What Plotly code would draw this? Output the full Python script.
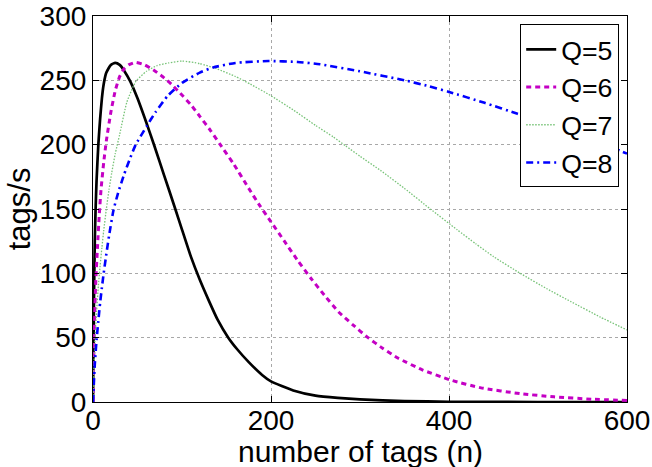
import plotly.graph_objects as go

# Q=5 (solid black)
n_q5 = [0, 1, 2, 3, 4, 6, 8, 10, 12, 15, 20, 25, 30, 35, 42, 50, 60, 69, 80, 92, 100, 110, 120, 130, 140, 152, 162, 175, 190, 200, 225, 250, 275, 300, 350, 400, 500, 600]
y_q5 = [0, 75, 125, 152, 172, 200, 220, 236, 247, 256, 262, 263.5, 262, 257.5, 249, 236, 217, 199, 176, 151, 134, 113, 95, 79, 64, 50, 41, 31, 21, 16, 9, 5, 3.2, 2, 0.7, 0.2, 0, 0]

# Q=6 (magenta dashed)
n_q6 = [0, 1, 2, 3, 5, 7, 9, 12, 15, 20, 25, 30, 35, 40, 48, 58, 68, 78, 88, 98, 110, 120, 132, 143, 158, 175, 188, 200, 215, 230, 245, 260, 276, 292, 309, 325, 343, 370, 402, 436, 480, 518, 560, 600]
y_q6 = [0, 40, 70, 92, 120, 145, 165, 186, 203, 225, 242, 253, 259, 262, 264, 262, 258, 253, 247, 240, 231, 222, 211, 200, 185, 166, 152, 140, 125, 110, 96, 83, 70, 60, 50, 42, 34, 25, 17, 11, 6.5, 4, 2.2, 1.2]

# Q=7 (green dotted)
n_q7 = [0, 1, 2, 4, 6, 8, 10, 12, 15, 18, 21, 25, 30, 38, 48, 60, 72, 85, 100, 120, 139, 160, 177, 200, 225, 250, 270, 284, 300, 323, 350, 379, 409, 430, 450, 480, 510, 537, 570, 600]
y_q7 = [0, 25, 45, 70, 90, 106, 120, 133, 150, 165, 178, 193, 208, 233, 249, 257, 261.5, 263.5, 265, 263, 259, 253, 247, 238, 227, 215, 206, 199, 191, 180, 166, 150, 134, 123, 113, 100, 88, 78, 66, 56]

# Q=8 (blue dash-dot)
n_q8 = [0, 1, 2, 4, 6, 8, 10, 12, 15, 18, 23, 28, 35, 42, 48, 60, 70, 84, 100, 120, 135, 160, 197, 230, 255, 300, 350, 377, 400, 440, 477, 500, 550, 586, 600]
y_q8 = [0, 15, 29, 48, 63, 77, 89, 100, 115, 129, 149, 162, 177, 190, 200, 214, 225, 238, 248, 256, 260, 263.5, 265, 264.3, 262.5, 257, 250, 245.5, 241, 232.5, 224, 218.5, 206, 197, 193]

x_ticks = [0, 200, 400, 600]
y_ticks = [0, 50, 100, 150, 200, 250, 300]

FONT = "Liberation Sans, Arial, sans-serif"

fig = go.Figure()
fig.add_trace(go.Scatter(x=n_q5, y=y_q5, mode="lines", name="Q=5",
                         line=dict(color="black", width=2.7, shape="spline", smoothing=0.5)))
fig.add_trace(go.Scatter(x=n_q6, y=y_q6, mode="lines", name="Q=6",
                         line=dict(color="#c400c4", width=3, dash="5px,4px", shape="spline", smoothing=0.5)))
fig.add_trace(go.Scatter(x=n_q7, y=y_q7, mode="lines", name="Q=7",
                         line=dict(color="rgb(120,195,120)", width=1.3, dash="1.5px,1.5px", shape="spline", smoothing=0.5)))
fig.add_trace(go.Scatter(x=n_q8, y=y_q8, mode="lines", name="Q=8",
                         line=dict(color="#0000ff", width=2.6, dash="7px,4px,2px,4px", shape="spline", smoothing=0.5)))

axis_common = dict(
    showline=True, linecolor="black", linewidth=1.2, mirror="ticks",
    ticks="inside", ticklen=6, tickcolor="black", tickwidth=1,
    showgrid=True, gridcolor="#a8a8a8", gridwidth=1, griddash="dot",
    zeroline=False, automargin=False,
    tickfont=dict(family=FONT, size=28, color="black"),
)

fig.update_layout(
    width=652, height=467,
    margin=dict(l=93, r=25, t=16, b=65),
    paper_bgcolor="white", plot_bgcolor="white",
    font=dict(family=FONT, color="black"),
    xaxis=dict(range=[0, 600], tickvals=x_ticks, ticktext=[str(v) for v in x_ticks],
               ticklabelstandoff=-7, **axis_common),
    yaxis=dict(range=[0, 300], tickvals=y_ticks, ticktext=[str(v) for v in y_ticks], **axis_common),
    legend=dict(x=0.80, y=0.978, xanchor="left", yanchor="top",
                bgcolor="white", bordercolor="black", borderwidth=1,
                font=dict(family=FONT, size=26.7, color="black"),
                itemwidth=30, tracegroupgap=0),
    showlegend=True,
    annotations=[
        dict(text="number of tags (n)", xref="paper", yref="paper", x=0.5, y=-0.128,
             xanchor="center", yanchor="middle", showarrow=False,
             font=dict(family=FONT, size=30, color="black")),
        dict(text="tags/s", xref="paper", yref="paper", x=-0.138, y=0.5,
             xanchor="center", yanchor="middle", showarrow=False, textangle=-90,
             font=dict(family=FONT, size=31, color="black")),
    ],
)

fig.write_html("out.html")
